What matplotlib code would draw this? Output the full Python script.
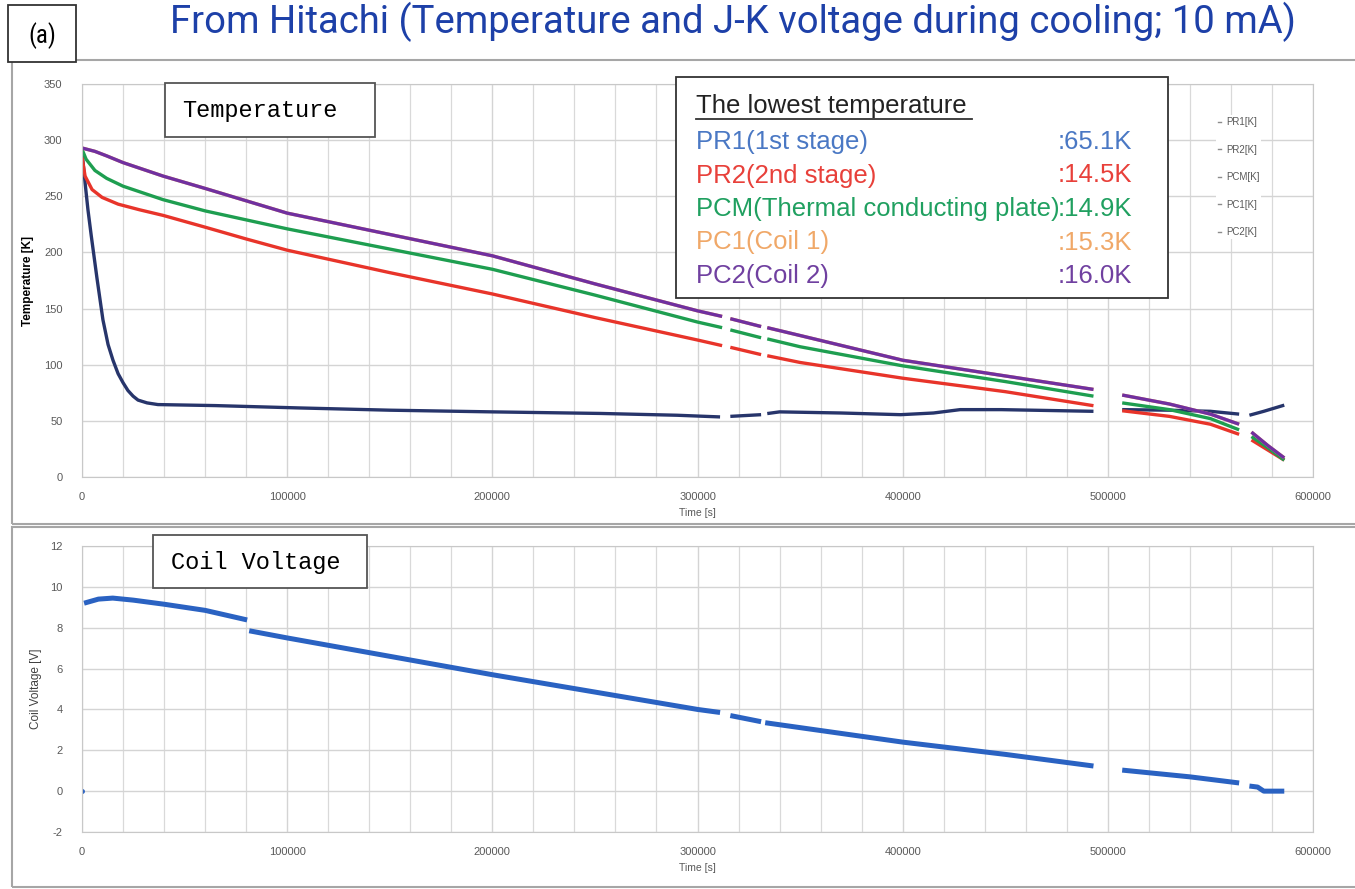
import numpy as np
import matplotlib
matplotlib.use("Agg")
from matplotlib import pyplot as plt
from matplotlib.patches import Rectangle
from matplotlib.lines import Line2D
from matplotlib.ticker import MultipleLocator

nan = np.nan

# temperature series (time [s], temperature [K]); nan = gap in logging
pr1_t = [0, 1500, 2900, 4500, 7300, 10200, 12700, 15100, 17600, 20000, 22400, 24900, 27300, 31700,
         37000, 65000, 106000, 150000, 200000, 252700, 290000, 311000, nan, 316000, 331000, nan,
         334000, 340000, 370000, 399000, 415000, 428000, 448000, 493000, nan, 507000, 530000,
         550000, 564000, nan, 569000, 576000, 586000]
pr1_T = [290, 262, 238, 215, 177, 140, 118, 104, 92, 84, 77, 72, 68.5, 66,
         64.5, 63.6, 61.5, 59.5, 58, 56.6, 55, 53.5, nan, 54, 55.5, nan,
         56.5, 58, 57, 55.5, 57, 60, 60, 58.5, nan, 60, 59.5,
         58.5, 56, nan, 55, 58.5, 64]

pr2_t = [0, 1500, 4900, 9800, 17600, 28000, 39500, 60000, 80000, 100000, 150000, 200000, 250000,
         300000, 312000, nan, 316000, 331000, nan, 334000, 350000, 400000, 450000, 493000, nan,
         507000, 530000, 550000, 564000, nan, 570000, 578000, 586000]
pr2_T = [285, 268, 256, 249, 243, 238, 233, 222.5, 212, 202, 182, 163, 142,
         122, 117, nan, 115.5, 109, nan, 108, 102, 88, 76, 63.5, nan,
         59, 54, 47, 38, nan, 33, 24, 15]

pcm_t = [0, 2000, 6300, 12000, 20000, 39500, 60000, 80000, 100000, 150000, 200000, 250000, 300000,
         312000, nan, 316000, 331000, nan, 334000, 350000, 400000, 450000, 493000, nan, 507000,
         530000, 550000, 564000, nan, 570000, 578000, 586000]
pcm_T = [292, 283, 273, 266, 259, 247, 237, 229, 221, 203, 185, 162, 138,
         133, nan, 131, 124, nan, 123, 116, 99, 85, 72, nan, 66,
         60, 52, 42, nan, 36, 26, 15]

pc1_t = [0, 6300, 12000, 20000, 39500, 60000, 80000, 100000, 150000, 200000, 250000, 300000,
         312000, nan, 316000, 331000, nan, 334000, 350000, 400000, 450000, 493000, nan, 507000,
         530000, 550000, 564000, nan, 570000, 578000, 586000]
pc1_T = [293, 290, 286, 280, 268, 257, 246, 235, 216, 197, 172, 148,
         143, nan, 141, 134, nan, 133, 126, 104, 90, 78, nan, 73,
         65, 56, 47, nan, 40, 28, 17]

pc2_t = [0, 6300, 12000, 20000, 39500, 60000, 80000, 100000, 150000, 200000, 250000, 300000,
         312000, nan, 316000, 331000, nan, 334000, 350000, 400000, 450000, 493000, nan, 507000,
         530000, 550000, 564000, nan, 570000, 578000, 586000]
pc2_T = [293, 290, 286, 280, 268, 257, 246, 235, 216, 197, 172, 148,
         143, nan, 141, 134, nan, 133, 126, 104, 90, 78, nan, 73,
         65, 56, 47, nan, 40, 28, 17]

# coil voltage (time [s], voltage [V])
volt_t = [1000, 8000, 15000, 25000, 40000, 60000, 80500, nan, 81500, 100000, 150000, 200000,
          250000, 300000, 311000, nan, 316000, 331000, nan, 333000, 400000, 450000, 493000, nan,
          507000, 540000, 564000, nan, 569000, 573000, 576000, 580000, 586000]
volt_V = [9.2, 9.4, 9.45, 9.35, 9.15, 8.85, 8.38, nan, 7.85, 7.5, 6.6, 5.7,
          4.85, 4.0, 3.85, nan, 3.7, 3.4, nan, 3.35, 2.4, 1.8, 1.23, nan,
          1.03, 0.7, 0.4, nan, 0.25, 0.2, 0.0, 0.0, 0.0]
volt0_t = [0]
volt0_V = [0]

labels = ["PR1[K]", "PR2[K]", "PCM[K]", "PC1[K]", "PC2[K]"]
colors = ["#27356b", "#e8342a", "#1e9e50", "#f0a060", "#7030a0"]

box_names = ["PR1(1st stage)", "PR2(2nd stage)", "PCM(Thermal conducting plate)",
             "PC1(Coil 1)", "PC2(Coil 2)"]
box_vals = [":65.1K", ":14.5K", ":14.9K", ":15.3K", ":16.0K"]
box_colors = ["#4a78c4", "#e8403a", "#20a060", "#f0a868", "#7040a0"]

plt.rcParams["font.family"] = ["Liberation Sans", "DejaVu Sans"]
plt.rcParams["axes.unicode_minus"] = False
W, H = 1355, 889
fig = plt.figure(figsize=(W / 100, H / 100), dpi=100)


def fx(px):
    return px / W


def fy(py):
    return 1 - py / H


def box(x0, y0, x1, y1, ec="#333333"):
    fig.patches.append(Rectangle((fx(x0), fy(y1)), fx(x1 - x0), (y1 - y0) / H,
                                 transform=fig.transFigure, fc="white", ec=ec, lw=1.3, zorder=5))


def style_axes(ax):
    ax.grid(True, which="major", color="#d4d4d4", lw=1.0)
    ax.grid(True, which="minor", axis="x", color="#d9d9d9", lw=0.9)
    ax.xaxis.set_minor_locator(MultipleLocator(20000))
    ax.tick_params(which="both", length=0, colors="#595959", labelsize=8)
    ax.tick_params(axis="y", pad=14)
    ax.tick_params(axis="x", pad=11)
    for s in ax.spines.values():
        s.set_color("#c8c8c8")
    ax.set_axisbelow(True)


# frames of the two chart panels
for (y0, y1) in [(60, 524), (527, 887)]:
    fig.patches.append(Rectangle((fx(12), fy(y1)), 1.2, fy(y0) - fy(y1), transform=fig.transFigure,
                                 fill=False, ec="#a6a6a6", lw=1.5))

# (a) label box and title
box(8, 5, 76, 62)
fig.text(fx(42), fy(36), "(a)", ha="center", va="center", fontsize=18,
         family=["Roboto Condensed", "Roboto", "DejaVu Sans"], fontstretch="condensed", zorder=6)
fig.text(fx(170), fy(33), "From Hitachi (Temperature and J-K voltage during cooling; 10 mA)",
         ha="left", va="baseline", fontsize=27.5, color="#1d40a8", fontweight="normal",
         family=["Roboto", "DejaVu Sans"])

# --- temperature panel
ax1 = fig.add_axes([fx(82), fy(477), fx(1313) - fx(82), fy(84) - fy(477)])
series = [(pr1_t, pr1_T), (pr2_t, pr2_T), (pcm_t, pcm_T), (pc1_t, pc1_T), (pc2_t, pc2_T)]
handles = []
for (t, T), lab, c in zip(series, labels, colors):
    ax1.plot(t, T, color=c, lw=2.4, label=lab, solid_capstyle="butt", solid_joinstyle="round")
    handles.append(Line2D([], [], color="#8c8c8c", lw=1.0))
ax1.set_xlim(0, 600000)
ax1.set_ylim(0, 350)
ax1.xaxis.set_major_locator(MultipleLocator(100000))
ax1.yaxis.set_major_locator(MultipleLocator(50))
style_axes(ax1)
ax1.set_xlabel("Time [s]", fontsize=7.5, color="#595959", labelpad=4)
ax1.set_ylabel("Temperature [K]", fontsize=8.5, fontweight="bold", labelpad=7)
leg = ax1.legend(handles, labels, loc="upper left", bbox_to_anchor=(0.917, 0.933), frameon=True,
                 fontsize=7, handlelength=0.35, handletextpad=0.5, labelspacing=1.8,
                 borderpad=0.2, edgecolor="none", facecolor="white", framealpha=1)
for txt in leg.get_texts():
    txt.set_color("#595959")

# "Temperature" title box
box(165, 83, 375, 137, ec="#555555")
fig.text(fx(260), fy(111), "Temperature", ha="center", va="center", fontsize=17,
         family=["Liberation Mono", "DejaVu Sans Mono"], zorder=6)

# lowest temperature box
box(676, 77, 1168, 298)
fig.text(fx(696), fy(113), "The lowest temperature", fontsize=18.5, ha="left", va="baseline",
         color="#222222", zorder=6)
fig.add_artist(Line2D([fx(696), fx(972)], [fy(119), fy(119)], color="#333333", lw=1.3, zorder=6))
for i, (n, v, c) in enumerate(zip(box_names, box_vals, box_colors)):
    yb = 149 + i * 33.5
    fig.text(fx(696), fy(yb), n, fontsize=18.5, color=c, ha="left", va="baseline", zorder=6)
    fig.text(fx(1058), fy(yb), v, fontsize=18.5, color=c, ha="left", va="baseline", zorder=6)

# --- coil voltage panel
ax2 = fig.add_axes([fx(82), fy(832), fx(1313) - fx(82), fy(546) - fy(832)])
ax2.plot(volt_t, volt_V, color="#2a62c2", lw=3.6, solid_capstyle="butt")
ax2.plot(volt0_t, volt0_V, "o", color="#2a62c2", ms=2.5)
ax2.set_xlim(0, 600000)
ax2.set_ylim(-2, 12)
ax2.xaxis.set_major_locator(MultipleLocator(100000))
ax2.yaxis.set_major_locator(MultipleLocator(2))
style_axes(ax2)
ax2.set_xlabel("Time [s]", fontsize=7.5, color="#595959", labelpad=4)
ax2.set_ylabel("Coil Voltage [V]", fontsize=8.5, color="#404040", labelpad=6)

box(153, 535, 367, 588, ec="#555555")
fig.text(fx(256), fy(562), "Coil Voltage", ha="center", va="center", fontsize=17,
         family=["Liberation Mono", "DejaVu Sans Mono"], zorder=6)

fig.savefig("out.png", dpi=100)
